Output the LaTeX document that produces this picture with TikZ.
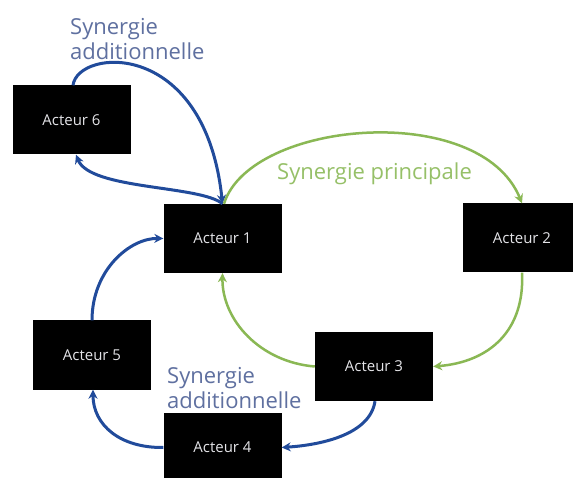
\documentclass[tikz,border=0pt]{standalone}
\usepackage{fontspec}
\setmainfont{Open Sans}
\usetikzlibrary{arrows.meta}
\definecolor{synblue}{RGB}{33,75,155}
\definecolor{syngreen}{RGB}{138,184,84}
\definecolor{labblue}{RGB}{95,112,160}
\definecolor{labgreen}{RGB}{150,192,104}
\definecolor{boxtext}{RGB}{228,228,232}
\tikzset{
  actor/.style={fill=black, text=boxtext, minimum width=118pt, minimum height=69pt, inner sep=0pt, font=\fontsize{15}{18}\selectfont},
  bluearrow/.style={draw=synblue, line width=3pt, -{Stealth[length=9pt,width=9pt]}},
  greenarrow/.style={draw=syngreen, line width=2.5pt, -{Stealth[length=9pt,width=9pt]}},
  lab/.style={inner sep=0pt, align=left, font=\fontsize{22}{25}\selectfont}
}
\begin{document}
\begin{tikzpicture}[x=1pt,y=-1pt]
\useasboundingbox (0,0) rectangle (573,478);
\clip (0,0) rectangle (573,478);
\fill[white] (0,0) rectangle (573,478);
\node[actor] (a6) at (71.5,120) {Acteur 6};
\node[actor] (a1) at (222.5,238.5) {Acteur 1};
\node[actor] (a2) at (522,238) {Acteur 2};
\node[actor] (a3) at (374,366.5) {Acteur 3};
\node[actor] (a4) at (222.5,447.5) {Acteur 4};
\node[actor] (a5) at (92,355) {Acteur 5};
\node[lab, text=labblue, anchor=north west] (l1) at (70,18) {Synergie\\additionnelle};
\node[lab, text=labblue, anchor=north west] (l2) at (167,367) {Synergie\\additionnelle};
\node[lab, text=labgreen, anchor=base west] (l3) at (277,180) {Synergie principale};
% blue top loop
\draw[bluearrow] ([xshift=1.5pt]a6.north) .. controls (78,48) and (205,38) .. (a1.north);
\draw[bluearrow] (a1.north) .. controls (200,185) and (90,190) .. ([xshift=4.5pt]a6.south);
% green cycle
\draw[greenarrow] ([xshift=1.5pt]a1.north) .. controls (250,120) and (480,100) .. (a2.north);
\draw[greenarrow] (a2.south) .. controls (525,330) and (490,362) .. (a3.east);
\draw[greenarrow] (a3.west) .. controls (260,362) and (222,320) .. (a1.south);
% blue lower cycle
\draw[bluearrow] ([xshift=1pt]a3.south) .. controls (370,435) and (320,445) .. (a4.east);
\draw[bluearrow] (a4.west) .. controls (120,448) and (93,425) .. ([xshift=1pt]a5.south);
\draw[bluearrow] (a5.north) .. controls (92,270) and (130,238) .. (a1.west);
\end{tikzpicture}
\end{document}
